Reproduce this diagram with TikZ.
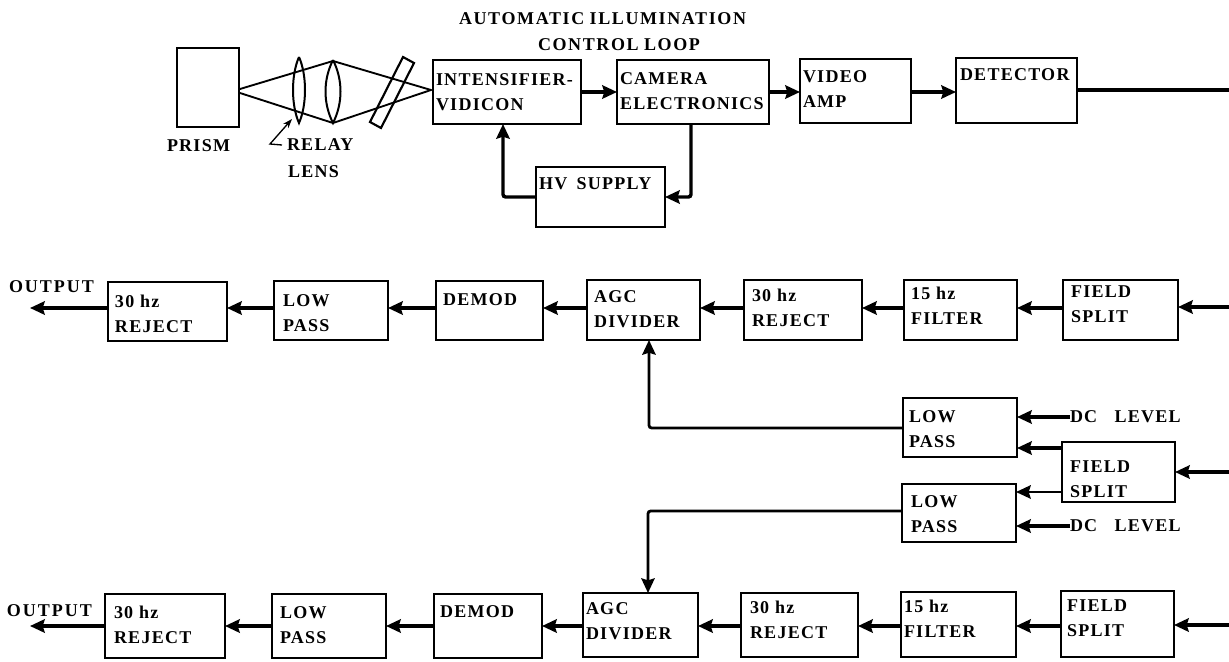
\documentclass[tikz,border=0pt]{standalone}
\usepackage{fontspec}
\setmainfont{Liberation Serif}[LetterSpace=7]
\usetikzlibrary{arrows.meta,calc}
\newcommand{\lbl}[1]{\begin{tabular}[c]{@{}l@{}}#1\end{tabular}}
% name, x1, y1, x2, y2, text, text left x, text centre y
\newcommand{\bx}[8]{%
  \pgfmathsetlengthmacro{\bw}{(#4-#2)*0.75}%
  \pgfmathsetlengthmacro{\bdx}{(#7-#2)*0.75}%
  \pgfmathsetlengthmacro{\bdy}{((#3+#5)/2-#8-6)*0.75}%
  \node[blockbox,minimum width=\bw,minimum height={(#5-#3)*0.75pt}] (#1) at ({(#2+#4)/2},{(#3+#5)/2})
   {\makebox[\bw][l]{\hspace*{\bdx}\smash{\raisebox{\bdy}{\lbl{#6}}}}};}
\tikzset{
  txt/.style={font=\fontsize{13.5}{18.75}\selectfont\bfseries,inner sep=0pt,outer sep=0pt,align=left},
  blockbox/.style={draw=black,line width=1.8pt,inner sep=0pt,outer sep=0pt,txt},
  arr/.style={draw=black,line width=2.6pt,-{Stealth[length=11pt,width=10pt,inset=1.5pt]},rounded corners=2pt},
  arrthin/.style={arr,line width=2.1pt},
  ray/.style={draw=black,line width=1.4pt},
  lens/.style={draw=black,line width=1.5pt}
}
\begin{document}
\begin{tikzpicture}[x=0.75pt,y=-0.75pt]
\useasboundingbox (0,0) rectangle (1229,661);
% top row
\bx{prism}{177}{48}{239}{127}{}{180}{88}
\bx{intens}{433}{60}{581}{124}{INTENSIFIER-\\VIDICON}{436}{92}
\bx{camera}{617}{60}{769}{124}{CAMERA\\ELECTRONICS}{620}{91}
\bx{video}{800}{59}{911}{123}{VIDEO\\AMP}{803}{89}
\bx{detector}{956}{58}{1077}{123}{DETECTOR}{960}{74}
\bx{hv}{536}{167}{665}{227}{HV\hspace{7pt}SUPPLY}{539}{183}
% row 2
\bx{rej1}{108}{282}{227}{341}{30 hz\\REJECT}{115}{314}
\bx{lp1}{274}{281}{388}{340}{LOW\\PASS}{283}{313}
\bx{dem1}{436}{281}{543}{340}{DEMOD}{443}{299}
\bx{agc1}{587}{280}{700}{340}{AGC\\DIVIDER}{594}{309}
\bx{rej2}{744}{280}{862}{340}{30 hz\\REJECT}{752}{308}
\bx{fil1}{904}{280}{1017}{340}{15 hz\\FILTER}{911}{306}
\bx{fs1}{1063}{280}{1178}{340}{FIELD\\SPLIT}{1071}{304}
% middle
\bx{lpa}{903}{398}{1017}{457}{LOW\\PASS}{909}{429}
\bx{fsm}{1062}{442}{1175}{502}{FIELD\\SPLIT}{1070}{479}
\bx{lpb}{902}{484}{1016}{542}{LOW\\PASS}{911}{514}
% row 3
\bx{rej3}{105}{594}{225}{658}{30 hz\\REJECT}{114}{625}
\bx{lp3}{272}{594}{386}{658}{LOW\\PASS}{280}{625}
\bx{dem3}{434}{594}{542}{658}{DEMOD}{440}{611}
\bx{agc3}{583}{593}{698}{657}{AGC\\DIVIDER}{586}{621}
\bx{rej4}{741}{593}{858}{657}{30 hz\\REJECT}{750}{620}
\bx{fil3}{901}{592}{1016}{657}{15 hz\\FILTER}{904}{619}
\bx{fs3}{1061}{591}{1174}{657}{FIELD\\SPLIT}{1067}{618}
% rails and free ends
\coordinate (ytop) at (0,92);
\coordinate (yr2) at (0,308);
\coordinate (yr3) at (0,626);
\coordinate (yfa) at (0,448);
\coordinate (yfb) at (0,492);
\coordinate (ylpa) at (0,428);
\coordinate (ylpb) at (0,511);
\coordinate (topend) at (1229,90);
\coordinate (r2in) at (1229,307);
\coordinate (r3in) at (1229,625);
\coordinate (midin) at (1229,472);
\coordinate (out1) at (30,308);
\coordinate (out3) at (30,626);
% plain labels
\node[txt,anchor=west] (lprism) at (167,146) {PRISM};
\node[txt,anchor=west] (lrelay) at (287,145) {RELAY};
\node[txt,anchor=west] (llens) at (288,172) {LENS};
\node[txt,anchor=west] (lauto) at (459,19) {\addfontfeature{LetterSpace=9}AUTOMATIC\hspace{4pt}ILLUMINATION};
\node[txt,anchor=west] (lctrl) at (538,45) {\addfontfeature{LetterSpace=9}CONTROL\hspace{4pt}LOOP};
\node[txt,anchor=west] (lout1) at (9,287) {\addfontfeature{LetterSpace=11}OUTPUT};
\node[txt,anchor=west] (lout3) at (7,611) {\addfontfeature{LetterSpace=11}OUTPUT};
\node[txt,anchor=west] (dca) at (1070,417) {DC\hspace{13pt}LEVEL};
\node[txt,anchor=west] (dcb) at (1070,526) {DC\hspace{13pt}LEVEL};
% optics
\coordinate (l2t) at (333,61);
\coordinate (l2b) at (333,123);
\coordinate (focus) at (431,90);
\coordinate (pa) at (240,89);
\coordinate (pb) at (240,93);
\draw[ray] (pa) -- (l2t) -- (focus) -- (l2b) -- (pb);
\draw[lens] (299,57) .. controls (291,75) and (291,105) .. (299,123) .. controls (307,105) and (307,75) .. (299,57);
\draw[lens] (333,60) .. controls (323,80) and (323,103) .. (333,123) .. controls (343,103) and (343,80) .. (333,60);
\draw[lens,line width=1.6pt] (403,57) -- (414,63) -- (381,128) -- (370,122) -- cycle;
\coordinate (rp1) at (282,145);
\coordinate (rp2) at (270,144);
\coordinate (rp3) at (292,119);
\draw[draw=black,line width=1pt,-{Stealth[length=7pt,width=5pt]}] (rp1) -- (rp2) -- (rp3);
% top connectors
\draw[arr] (intens.east |- ytop) -- (camera.west |- ytop);
\draw[arr] (camera.east |- ytop) -- (video.west |- ytop);
\draw[arr] (video.east |- ytop) -- (detector.west |- ytop);
\draw[arr,-] (detector.east |- topend) -- (topend);
\coordinate (hvr) at (691,197);
\coordinate (hvl) at (503,197);
\draw[arr] (camera.south -| hvr) -- (hvr) -- (hv.east);
\draw[arr] (hv.west) -- (hvl) -- (intens.south -| hvl);
% row 2
\draw[arr] (r2in) -- (fs1.east |- r2in);
\draw[arr] (fs1.west |- yr2) -- (fil1.east |- yr2);
\draw[arr] (fil1.west |- yr2) -- (rej2.east |- yr2);
\draw[arr] (rej2.west |- yr2) -- (agc1.east |- yr2);
\draw[arr] (agc1.west |- yr2) -- (dem1.east |- yr2);
\draw[arr] (dem1.west |- yr2) -- (lp1.east |- yr2);
\draw[arr] (lp1.west |- yr2) -- (rej1.east |- yr2);
\draw[arr] (rej1.west |- yr2) -- (out1);
% middle
\draw[arr] (midin) -- (fsm.east |- midin);
\draw[arr] (dca.west) -- (lpa.east |- dca.west);
\draw[arr] (dcb.west) -- (lpb.east |- dcb.west);
\draw[arr] (fsm.west |- yfa) -- (lpa.east |- yfa);
\draw[arrthin] (fsm.west |- yfb) -- (lpb.east |- yfb);
\coordinate (va) at (649,428);
\coordinate (vb) at (648,511);
\draw[arrthin] (lpa.west |- ylpa) -- (va) -- (agc1.south -| va);
\draw[arrthin] (lpb.west |- ylpb) -- (vb) -- (agc3.north -| vb);
% row 3
\draw[arr] (r3in) -- (fs3.east |- r3in);
\draw[arr] (fs3.west |- yr3) -- (fil3.east |- yr3);
\draw[arr] (fil3.west |- yr3) -- (rej4.east |- yr3);
\draw[arr] (rej4.west |- yr3) -- (agc3.east |- yr3);
\draw[arr] (agc3.west |- yr3) -- (dem3.east |- yr3);
\draw[arr] (dem3.west |- yr3) -- (lp3.east |- yr3);
\draw[arr] (lp3.west |- yr3) -- (rej3.east |- yr3);
\draw[arr] (rej3.west |- yr3) -- (out3);
\end{tikzpicture}
\end{document}
